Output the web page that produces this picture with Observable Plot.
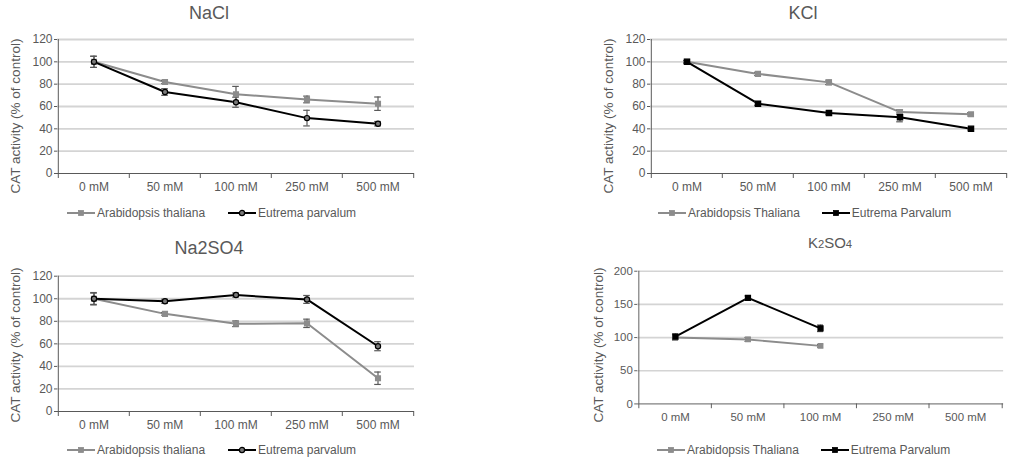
<!DOCTYPE html>
<html><head><meta charset="utf-8">
<script src="https://cdn.jsdelivr.net/npm/d3@7"></script>
<script src="https://cdn.jsdelivr.net/npm/@observablehq/plot@0.6"></script>
<style>
body{margin:0;width:1010px;height:466px;overflow:hidden;background:#fff;font-family:"Liberation Sans",Arial,sans-serif;position:relative}
.abs{position:absolute}
.title{color:#595959;font-size:18px;transform:translate(-50%,-50%);white-space:nowrap}
.ylab{color:#595959;font-size:13.5px;transform:translate(-50%,-50%) rotate(-90deg);white-space:nowrap}
.leg{color:#595959;font-size:12px;display:flex;align-items:center;white-space:nowrap;transform:translateY(-50%)}
.leg svg{display:block}
sub.s{font-size:75%;vertical-align:baseline}
</style></head><body>
<script>
// ---------- data ----------
const concentrations = ["0 mM", "50 mM", "100 mM", "250 mM", "500 mM"];

const naclArabidopsis    = [100, 82, 71, 66.3, 62.5];
const naclArabidopsisErr = [5, 1.5, 7, 3, 6];
const naclEutrema        = [100, 73, 63.8, 49.6, 44.6];
const naclEutremaErr     = [5, 3, 4.5, 7, 2];

const kclArabidopsis    = [100, 89.2, 81.6, 55, 53];
const kclArabidopsisErr = [1, 1.5, 2, 2, 1.5];
const kclEutrema        = [100, 62.5, 54.2, 50.3, 40];
const kclEutremaErr     = [1.2, 1.5, 1.5, 4, 1];

const na2so4Arabidopsis    = [100, 86.6, 77.8, 78.2, 29.5];
const na2so4ArabidopsisErr = [5, 1.2, 2.5, 3.7, 5.5];
const na2so4Eutrema        = [100, 97.8, 103.3, 99.4, 57.9];
const na2so4EutremaErr     = [5.5, 1.8, 1.8, 3.5, 4];

const k2so4Arabidopsis    = [100.2, 97.2, 87.5, null, null];
const k2so4ArabidopsisErr = [4, 3, 2, null, null];
const k2so4Eutrema        = [101.5, 159.8, 114, null, null];
const k2so4EutremaErr     = [4, 3, 5, null, null];

const ticks120 = [0, 20, 40, 60, 80, 100, 120];
const ticks200 = [0, 50, 100, 150, 200];

const yLabel = "CAT activity (% of control)";

// ---------- helpers ----------
const GRAY = "#8c8c8c", BLACK = "#000", TXT = "#595959";

function rows(vals, errs, series) {
  return concentrations.map((c, i) => ({c, v: vals[i], e: errs[i], series}))
    .filter(d => d.v != null);
}

function el(html, cls, style) {
  const d = document.createElement("div");
  d.className = "abs " + cls;
  Object.assign(d.style, style);
  d.innerHTML = html;
  document.body.appendChild(d);
  return d;
}

function swatch(color, shape, fill) {
  const m = shape === "circle"
    ? `<circle cx="14" cy="5" r="2.6" fill="${fill}" stroke="${color}" stroke-width="1.2"/>`
    : `<rect x="11.5" y="2.5" width="5" height="5" fill="${fill}" stroke="${color}" stroke-width="0.8"/>`;
  return `<svg width="28" height="10"><line x1="0" x2="28" y1="5" y2="5" stroke="${color}" stroke-width="2"/>${m}</svg>`;
}

function panel(cfg) {
  const {left, top, width, height, mt, mb, ml, mr, yDomain, yTicks,
         ara, araErr, eut, eutErr, eutShape, eutFill} = cfg;
  const bw = (width - ml - mr) / concentrations.length;
  const A = rows(ara, araErr, "Arabidopsis");
  const E = rows(eut, eutErr, "Eutrema");
  const eSym = eutShape === "circle" ? "circle" : "square";
  const capInset = (bw - 7) / 2;
  const errMarks = (D) => [
    Plot.ruleX(D, {x: "c", y1: d => d.v - d.e, y2: d => d.v + d.e, stroke: TXT, strokeWidth: 1.2}),
    Plot.tickY(D, {x: "c", y: d => d.v - d.e, stroke: TXT, strokeWidth: 1.2, insetLeft: capInset, insetRight: capInset}),
    Plot.tickY(D, {x: "c", y: d => d.v + d.e, stroke: TXT, strokeWidth: 1.2, insetLeft: capInset, insetRight: capInset})
  ];
  const chart = Plot.plot({
    width, height,
    marginTop: mt, marginBottom: mb, marginLeft: ml, marginRight: mr,
    style: {fontSize: "12px", fontFamily: "'Liberation Sans', Arial, sans-serif", color: TXT, background: "transparent", overflow: "visible"},
    x: {type: "band", domain: concentrations, padding: 0, label: null},
    y: {domain: yDomain, label: null},
    marks: [
      Plot.gridY(yTicks.filter(t => t > 0), {stroke: "#d4d4d4", strokeOpacity: 1, strokeWidth: 1.8}),
      Plot.axisY(yTicks, {tickSize: 3, tickPadding: 2, color: TXT, label: null}),
      Plot.axisX({tickSize: 0, tickPadding: 9, color: TXT, label: null}),
      Plot.axisX({tickSize: 5, tickFormat: () => "", dx: -bw / 2, color: TXT, label: null}),
      Plot.axisX(concentrations.slice(-1), {tickSize: 5, tickFormat: () => "", dx: bw / 2, color: TXT, label: null}),
      Plot.ruleY([0], {stroke: TXT, strokeWidth: 1}),
      Plot.ruleX(concentrations.slice(0, 1), {dx: -bw / 2, stroke: TXT, strokeWidth: 1}),
      Plot.line(A, {x: "c", y: "v", stroke: GRAY, strokeWidth: 2}),
      Plot.line(E, {x: "c", y: "v", stroke: BLACK, strokeWidth: 2}),
      ...errMarks(A),
      ...errMarks(E),
      Plot.dot(A, {x: "c", y: "v", symbol: "square", r: 2.6, fill: GRAY, stroke: GRAY}),
      Plot.dot(E, {x: "c", y: "v", symbol: eSym, r: eSym === "circle" ? 2.6 : 3, fill: eutFill, stroke: BLACK, strokeWidth: 1.2})
    ]
  });
  const wrap = document.createElement("div");
  wrap.className = "abs";
  Object.assign(wrap.style, {left: left + "px", top: top + "px"});
  wrap.appendChild(chart);
  document.body.appendChild(wrap);
}

// ---------- panels ----------
panel({left: 0, top: 0, width: 430, height: 200, mt: 39, mb: 27, ml: 57, mr: 16,
  yDomain: [0, 120], yTicks: ticks120,
  ara: naclArabidopsis, araErr: naclArabidopsisErr, eut: naclEutrema, eutErr: naclEutremaErr,
  eutShape: "circle", eutFill: "#7a7a7a"});
panel({left: 590, top: 0, width: 420, height: 200, mt: 39, mb: 27, ml: 60, mr: 3,
  yDomain: [0, 120], yTicks: ticks120,
  ara: kclArabidopsis, araErr: kclArabidopsisErr, eut: kclEutrema, eutErr: kclEutremaErr,
  eutShape: "square", eutFill: BLACK});
panel({left: 0, top: 230, width: 430, height: 205, mt: 45.7, mb: 24, ml: 57, mr: 16,
  yDomain: [0, 120], yTicks: ticks120,
  ara: na2so4Arabidopsis, araErr: na2so4ArabidopsisErr, eut: na2so4Eutrema, eutErr: na2so4EutremaErr,
  eutShape: "circle", eutFill: "#7a7a7a"});
panel({left: 590, top: 230, width: 440, height: 205, mt: 42.7, mb: 23.3, ml: 49.3, mr: 7.2,
  yDomain: [0, 200], yTicks: ticks200,
  ara: k2so4Arabidopsis, araErr: k2so4ArabidopsisErr, eut: k2so4Eutrema, eutErr: k2so4EutremaErr,
  eutShape: "square", eutFill: BLACK});

// ---------- titles ----------
el("NaCl", "title", {left: "209px", top: "13px"});
el("KCl", "title", {left: "803px", top: "13px"});
el("Na2SO4", "title", {left: "209px", top: "248px"});
el('K<sub class="s">2</sub>SO<sub class="s">4</sub>', "title", {left: "830px", top: "242px", fontSize: "15px"});

// ---------- y axis titles ----------
el(yLabel, "ylab", {left: "15px", top: "116px"});
el(yLabel, "ylab", {left: "608px", top: "116px"});
el(yLabel, "ylab", {left: "15px", top: "345px"});
el(yLabel, "ylab", {left: "598px", top: "345px"});

// ---------- legends ----------
function legend(x, y, names, eutShape, eutFill, gap) {
  el(`${swatch(GRAY, "square", GRAY)}<span style="margin-left:2px">${names[0]}</span>` +
     `<span style="display:inline-block;width:${gap}px"></span>` +
     `${swatch(BLACK, eutShape, eutFill)}<span style="margin-left:2px">${names[1]}</span>`,
     "leg", {left: x + "px", top: y + "px"});
}
legend(67, 213, ["Arabidopsis thaliana", "Eutrema parvalum"], "circle", "#7a7a7a", 23);
legend(658, 213, ["Arabidopsis Thaliana", "Eutrema Parvalum"], "square", BLACK, 22);
legend(67, 450, ["Arabidopsis thaliana", "Eutrema parvalum"], "circle", "#7a7a7a", 23);
legend(657, 450, ["Arabidopsis Thaliana", "Eutrema Parvalum"], "square", BLACK, 22);
</script>
</body></html>
